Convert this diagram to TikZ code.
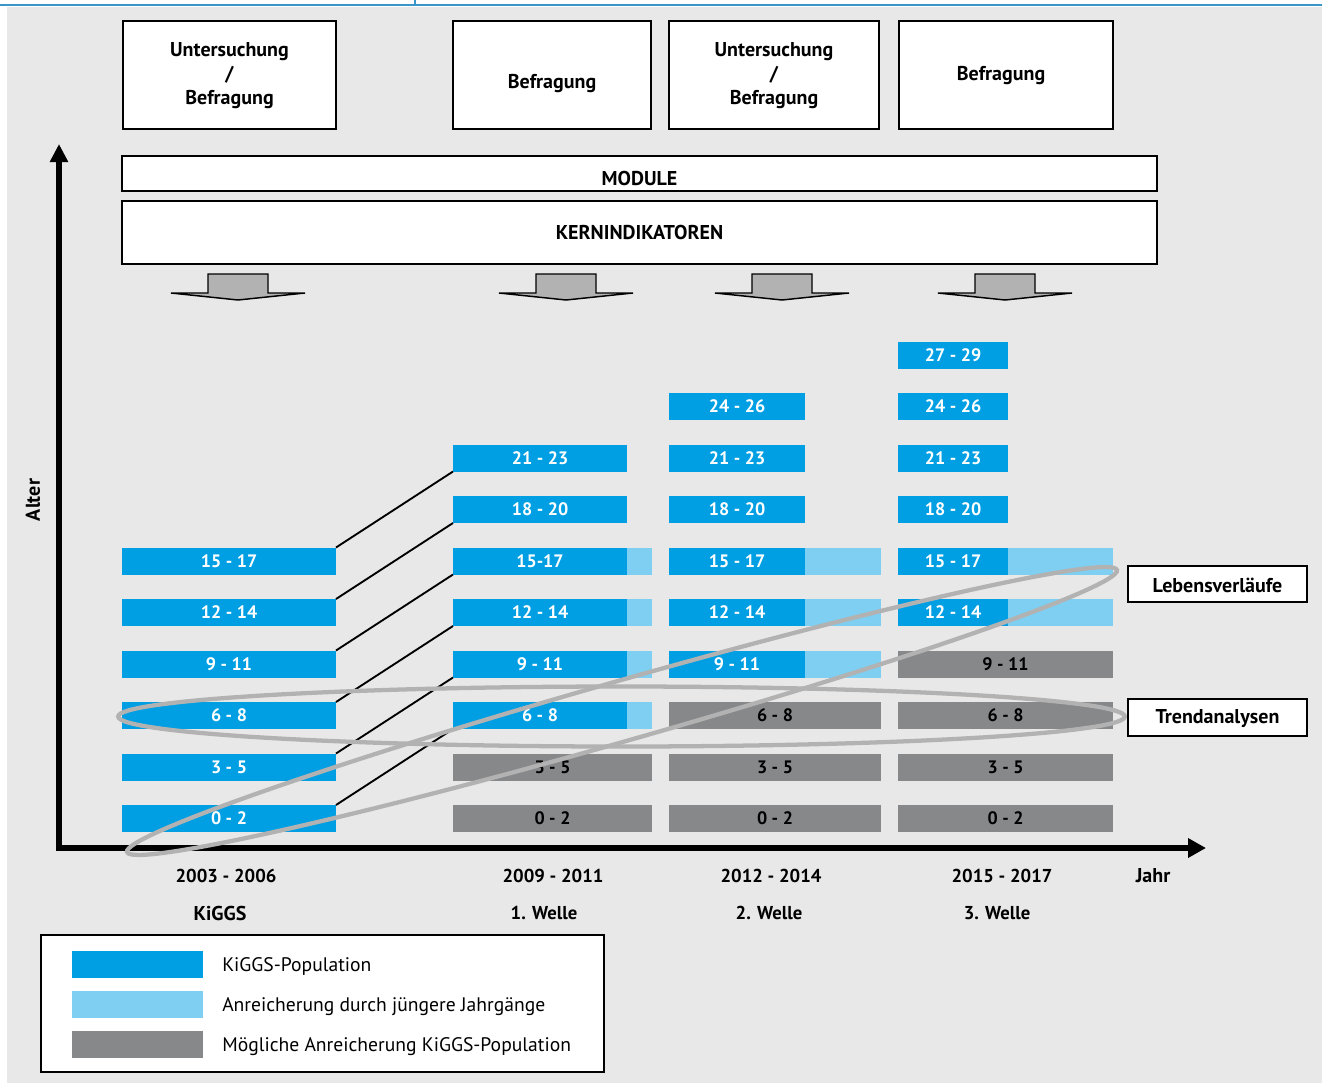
\documentclass[tikz,border=0pt]{standalone}
\usepackage{fontspec}
\setmainfont{PT Sans}
\usetikzlibrary{arrows.meta}
\definecolor{kblue}{RGB}{0,159,227}
\definecolor{klight}{RGB}{126,207,241}
\definecolor{kgray}{RGB}{135,136,138}
\definecolor{bgc}{RGB}{232,232,232}
\definecolor{ellc}{RGB}{178,178,178}
\definecolor{headc}{RGB}{58,150,200}
\newcommand\mybar[6]{\node[#1, minimum width={(#4-#3)*0.75pt}] (#2) at ({(#3+#4)/2},#5) {#6};}
\begin{document}
\begin{tikzpicture}[x=0.75pt,y=-0.75pt,
  bx/.style={draw=black, line width=1.1pt, fill=white, inner sep=0, outer sep=0},
  lbl/.style={font=\fontsize{15}{18}\selectfont\bfseries, align=center, inner sep=0},
  ylbl/.style={font=\fontsize{14}{18}\selectfont\bfseries, align=center, inner sep=0},
  bar/.style={inner sep=0, outer sep=0, minimum height=20.25pt, font=\fontsize{13.5}{16}\selectfont\bfseries},
  bb/.style={bar, fill=kblue, text=white},
  bl/.style={bar, fill=klight},
  bg/.style={bar, fill=kgray, text=black},
  conn/.style={draw=black, line width=1.4pt},
  ellip/.style={draw=ellc, line width=3.2pt},
  blockarr/.style={draw=black, fill=ellc, line width=1.1pt, line join=miter},
  axis/.style={draw=black, line width=4.2pt, line join=miter, {Triangle[length=13.5pt,width=13pt]}-{Triangle[length=13.5pt,width=14pt]}},
  leg/.style={font=\fontsize{14.7}{16}\selectfont, anchor=west, inner sep=0}
]
\useasboundingbox (0,0) rectangle (1322,1083);
\fill[white] (0,0) rectangle (1322,1083);
\fill[bgc] (7,7) rectangle (1322,1083);
\draw[headc, line width=1.5pt] (0,5) -- (1322,5);
\draw[headc, line width=1pt] (415,0) -- (415,5);

% top boxes
\node[bx, minimum width={213*0.75pt}, minimum height={108*0.75pt}] (t1) at (229.5,75) {};
\node[lbl] (t1l) at (229.5,76) {Untersuchung\\/\\Befragung};
\node[bx, minimum width={198*0.75pt}, minimum height={108*0.75pt}] (t2) at (552,75) {};
\node[lbl] (t2l) at (552,84) {Befragung};
\node[bx, minimum width={210*0.75pt}, minimum height={108*0.75pt}] (t3) at (774,75) {};
\node[lbl] (t3l) at (774,76) {Untersuchung\\/\\Befragung};
\node[bx, minimum width={214*0.75pt}, minimum height={108*0.75pt}] (t4) at (1006,75) {};
\node[lbl] (t4l) at (1001,76) {Befragung};

\node[bx, minimum width={1035*0.75pt}, minimum height={35*0.75pt}] (mod) at (639.5,173.5) {};
\node[lbl] (modl) at (639.5,178) {MODULE};
\node[bx, minimum width={1035*0.75pt}, minimum height={63*0.75pt}] (kern) at (639.5,232.5) {};
\node[lbl] (kernl) at (639.5,232) {KERNINDIKATOREN};

% block arrows
\foreach \cx in {238,566,782,1005}{
  \draw[blockarr] (\cx-30,274) -- (\cx+30,274) -- (\cx+30,293) -- (\cx+67,293) -- (\cx,300) -- (\cx-67,293) -- (\cx-30,293) -- cycle;
}

% axes
\coordinate (ytop) at (59,144);
\coordinate (org) at (59,848);
\coordinate (xend) at (1206,848);
\draw[axis] (ytop) -- (org) -- (xend);
\node[lbl, rotate=90] (alter) at (33,500) {Alter};

% column 1
\mybar{bb}{a0}{122}{336}{818.5}{0 - 2}
\mybar{bb}{a1}{122}{336}{767}{3 - 5}
\mybar{bb}{a2}{122}{336}{715.5}{6 - 8}
\mybar{bb}{a3}{122}{336}{664}{9 - 11}
\mybar{bb}{a4}{122}{336}{612.5}{12 - 14}
\mybar{bb}{a5}{122}{336}{561}{15 - 17}

% column 2
\mybar{bg}{b0}{453}{652}{818.5}{0 - 2}
\mybar{bg}{b1}{453}{652}{767}{3 - 5}
\mybar{bl}{b2x}{627}{652}{715.5}{}
\mybar{bl}{b3x}{627}{652}{664}{}
\mybar{bl}{b4x}{627}{652}{612.5}{}
\mybar{bl}{b5x}{627}{652}{561}{}
\mybar{bb}{b2}{453}{627}{715.5}{6 - 8}
\mybar{bb}{b3}{453}{627}{664}{9 - 11}
\mybar{bb}{b4}{453}{627}{612.5}{12 - 14}
\mybar{bb}{b5}{453}{627}{561}{15-17}
\mybar{bb}{b6}{453}{627}{509.5}{18 - 20}
\mybar{bb}{b7}{453}{627}{458}{21 - 23}

% column 3
\mybar{bg}{c0}{669}{881}{818.5}{0 - 2}
\mybar{bg}{c1}{669}{881}{767}{3 - 5}
\mybar{bg}{c2}{669}{881}{715.5}{6 - 8}
\mybar{bl}{c3x}{805}{881}{664}{}
\mybar{bl}{c4x}{805}{881}{612.5}{}
\mybar{bl}{c5x}{805}{881}{561}{}
\mybar{bb}{c3}{669}{805}{664}{9 - 11}
\mybar{bb}{c4}{669}{805}{612.5}{12 - 14}
\mybar{bb}{c5}{669}{805}{561}{15 - 17}
\mybar{bb}{c6}{669}{805}{509.5}{18 - 20}
\mybar{bb}{c7}{669}{805}{458}{21 - 23}
\mybar{bb}{c8}{669}{805}{406.5}{24 - 26}

% column 4
\mybar{bg}{d0}{898}{1113}{818.5}{0 - 2}
\mybar{bg}{d1}{898}{1113}{767}{3 - 5}
\mybar{bg}{d2}{898}{1113}{715.5}{6 - 8}
\mybar{bg}{d3}{898}{1113}{664}{9 - 11}
\mybar{bl}{d4x}{1008}{1113}{612.5}{}
\mybar{bl}{d5x}{1008}{1113}{561}{}
\mybar{bb}{d4}{898}{1008}{612.5}{12 - 14}
\mybar{bb}{d5}{898}{1008}{561}{15 - 17}
\mybar{bb}{d6}{898}{1008}{509.5}{18 - 20}
\mybar{bb}{d7}{898}{1008}{458}{21 - 23}
\mybar{bb}{d8}{898}{1008}{406.5}{24 - 26}
\mybar{bb}{d9}{898}{1008}{355}{27 - 29}

% connectors
\draw[conn] (a0.north east) -- (b2.south west);
\draw[conn] (a1.north east) -- (b3.south west);
\draw[conn] (a2.north east) -- (b4.south west);
\draw[conn] (a3.north east) -- (b5.south west);
\draw[conn] (a4.north east) -- (b6.south west);
\draw[conn] (a5.north east) -- (b7.south west);

% ellipses
\draw[ellip] (621.5,716.5) ellipse [x radius=377.5pt, y radius=22.5pt];
\draw[ellip, rotate around={15.9:(622,711)}] (622,711) ellipse [x radius=386pt, y radius=22.5pt];

% right labels
\node[bx, minimum width={179*0.75pt}, minimum height={36*0.75pt}] (lv) at (1217.5,584) {};
\node[lbl] (lvl) at (1217.5,585.5) {Lebensverläufe};
\node[bx, minimum width={179*0.75pt}, minimum height={37*0.75pt}] (tr) at (1217.5,717.5) {};
\node[lbl] (trl) at (1217.5,719) {Trendanalysen};

% year labels
\node[ylbl] (y1) at (226,876) {2003 - 2006};
\node[lbl] (w1) at (220,913) {KiGGS};
\node[ylbl] (y2) at (553,876) {2009 - 2011};
\node[ylbl] (w2) at (544,913) {1. Welle};
\node[ylbl] (y3) at (771,876) {2012 - 2014};
\node[ylbl] (w3) at (769,913) {2. Welle};
\node[ylbl] (y4) at (1002,876) {2015 - 2017};
\node[ylbl] (w4) at (997,913) {3. Welle};
\node[lbl] (jahr) at (1153,876) {Jahr};

% legend
\node[bx, minimum width={563*0.75pt}, minimum height={137*0.75pt}] (legend) at (322.5,1003.5) {};
\mybar{bar, fill=kblue}{s1}{72}{203}{964}{}
\mybar{bar, fill=klight}{s2}{72}{203}{1004}{}
\mybar{bar, fill=kgray}{s3}{72}{203}{1044}{}
\node[leg] (l1) at (222,966.5) {KiGGS-Population};
\node[leg] (l2) at (222,1006.5) {Anreicherung durch jüngere Jahrgänge};
\node[leg] (l3) at (222,1046.5) {Mögliche Anreicherung KiGGS-Population};
\end{tikzpicture}
\end{document}
